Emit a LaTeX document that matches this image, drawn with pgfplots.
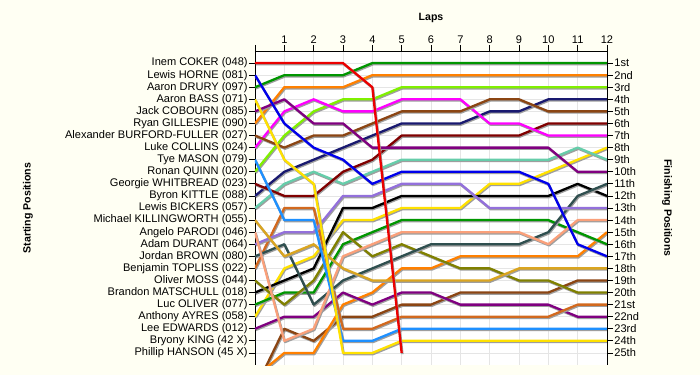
\documentclass[border=0pt]{standalone}
\usepackage{fontspec}
\setmainfont{Liberation Sans}
\usepackage{pgfplots}
\pgfplotsset{compat=1.18}
\definecolor{bg}{RGB}{255,255,243}
\definecolor{cRed}{RGB}{235,0,0}
\definecolor{cBlue}{RGB}{0,0,235}
\definecolor{cGreen}{RGB}{0,150,0}
\definecolor{cYellow}{RGB}{255,225,0}
\definecolor{cPurple}{RGB}{128,0,128}
\definecolor{cOrange}{RGB}{255,128,0}
\definecolor{cBrown}{RGB}{139,69,19}
\definecolor{cMagenta}{RGB}{255,0,255}
\definecolor{cDodger}{RGB}{30,144,255}
\definecolor{cLime}{RGB}{128,240,0}
\definecolor{cMaroon}{RGB}{128,0,0}
\definecolor{cNavy}{RGB}{25,25,112}
\definecolor{cAqua}{RGB}{102,205,170}
\definecolor{cGold}{RGB}{218,165,32}
\definecolor{cSalmon}{RGB}{250,160,122}
\definecolor{cMedPurple}{RGB}{147,112,219}
\definecolor{cSlate}{RGB}{47,79,79}
\definecolor{cChoc}{RGB}{210,105,30}
\definecolor{cOlive}{RGB}{128,128,0}
\newcommand{\rider}[2]{%
  \addplot[draw=black!38, line width=2.3bp, line join=round, shift={(0.8bp,-1.2bp)}, forget plot] coordinates {#2};
  \addplot[draw=#1, line width=2.3bp, line join=round, forget plot] coordinates {#2};
}
\newcommand{\lblfont}{\fontsize{11.1}{12}\selectfont}
\newcommand{\ttlfont}{\fontsize{10.6}{12}\selectfont\bfseries}
\begin{document}
\begin{tikzpicture}
\fill[bg] (-255bp,-10bp) rectangle (445bp,365bp);
\path[use as bounding box] (-255bp,-10bp) rectangle (445bp,365bp);
\begin{axis}[
  at={(0,0)}, anchor=south west,
  scale only axis, width=352bp, height=314bp,
  xmin=0, xmax=12, ymin=0, ymax=26, y dir=reverse,
  axis background/.style={fill=white},
  axis x line*=top, axis y line*=box,
  xtick={0,...,12}, xticklabels={,1,2,3,4,5,6,7,8,9,10,11,12},
  ytick={1,...,25},
  ytick pos=left,
  yticklabels={Inem COKER (048),Lewis HORNE (081),Aaron DRURY (097),Aaron BASS (071),Jack COBOURN (085),Ryan GILLESPIE (090),Alexander BURFORD-FULLER (027),Luke COLLINS (024),Tye MASON (079),Ronan QUINN (020),Georgie WHITBREAD (023),Byron KITTLE (088),Lewis BICKERS (057),Michael KILLINGWORTH (055),Angelo PARODI (046),Adam DURANT (064),Jordan BROWN (080),Benjamin TOPLISS (022),Oliver MOSS (044),Brandon MATSCHULL (018),Luc OLIVER (077),Anthony AYRES (058),Lee EDWARDS (012),Bryony KING (42 X),Phillip HANSON (45 X)},
  tick align=outside, major tick length=6bp,
  tick style={black, line width=0.8bp},
  axis line style={black, line width=0.8bp},
  grid=major, grid style={draw=black!10, line width=0.8bp},
  tick label style={font=\lblfont},
  yticklabel style={inner sep=1.2bp},
  xticklabel style={inner sep=1.5bp},
]
\rider{cBrown}{(0,28)(1,23)(2,24)(3,22)(4,22)(5,21)(6,21)(7,20)(8,20)(9,20)(10,20)(11,19)(12,19)}
\rider{cOrange}{(0,27)(1,25)(2,25)(3,21)(4,20)(5,18)(6,18)(7,17)(8,17)(9,17)(10,17)(11,17)(12,15)}
\rider{cPurple}{(0,23)(1,22)(2,22)(3,20)(4,21)(5,20)(6,20)(7,21)(8,21)(9,21)(10,21)(11,22)(12,22)}
\rider{cYellow}{(0,22)(1,18)(2,17)(3,14)(4,14)(5,13)(6,13)(7,13)(8,11)(9,11)(10,10)(11,9)(12,8)}
\rider{cGreen}{(0,21)(1,20)(2,20)(3,16)(4,15)(5,14)(6,14)(7,14)(8,14)(9,14)(10,14)(11,15)(12,16)}
\rider{black}{(0,20)(1,19)(2,18)(3,13)(4,13)(5,12)(6,12)(7,12)(8,12)(9,12)(10,12)(11,11)(12,12)}
\rider{cOlive}{(0,19)(1,21)(2,19)(3,15)(4,17)(5,16)(6,17)(7,18)(8,18)(9,19)(10,19)(11,20)(12,20)}
\rider{cChoc}{(0,18)(1,13)(2,13)(3,23)(4,23)(5,22)(6,22)(7,22)(8,22)(9,22)(10,22)(11,21)(12,21)}
\rider{cSlate}{(0,17)(1,16)(2,21)(3,19)(4,18)(5,17)(6,16)(7,16)(8,16)(9,16)(10,15)(11,12)(12,11)}
\rider{cMedPurple}{(0,16)(1,15)(2,15)(3,12)(4,12)(5,11)(6,11)(7,11)(8,13)(9,13)(10,13)(11,13)(12,13)}
\rider{cSalmon}{(0,15)(1,24)(2,23)(3,17)(4,16)(5,15)(6,15)(7,15)(8,15)(9,15)(10,16)(11,14)(12,14)}
\rider{cGold}{(0,14)(1,17)(2,16)(3,18)(4,19)(5,19)(6,19)(7,19)(8,19)(9,18)(10,18)(11,18)(12,18)}
\rider{cAqua}{(0,13)(1,11)(2,10)(3,11)(4,10)(5,9)(6,9)(7,9)(8,9)(9,9)(10,9)(11,8)(12,9)}
\rider{cNavy}{(0,12)(1,10)(2,9)(3,8)(4,7)(5,6)(6,6)(7,6)(8,5)(9,5)(10,4)(11,4)(12,4)}
\rider{cMaroon}{(0,11)(1,12)(2,12)(3,10)(4,9)(5,7)(6,7)(7,7)(8,7)(9,7)(10,6)(11,6)(12,6)}
\rider{cLime}{(0,10)(1,7)(2,5)(3,4)(4,4)(5,3)(6,3)(7,3)(8,3)(9,3)(10,3)(11,3)(12,3)}
\rider{cDodger}{(0,9)(1,14)(2,14)(3,24)(4,24)(5,23)(6,23)(7,23)(8,23)(9,23)(10,23)(11,23)(12,23)}
\rider{cMagenta}{(0,8)(1,5)(2,4)(3,5)(4,5)(5,4)(6,4)(7,4)(8,6)(9,6)(10,7)(11,7)(12,7)}
\rider{cBrown}{(0,7)(1,8)(2,7)(3,7)(4,6)(5,5)(6,5)(7,5)(8,4)(9,4)(10,5)(11,5)(12,5)}
\rider{cOrange}{(0,6)(1,3)(2,3)(3,3)(4,2)(5,2)(6,2)(7,2)(8,2)(9,2)(10,2)(11,2)(12,2)}
\rider{cPurple}{(0,5)(1,4)(2,6)(3,6)(4,8)(5,8)(6,8)(7,8)(8,8)(9,8)(10,8)(11,10)(12,10)}
\rider{cYellow}{(0,4)(1,9)(2,11)(3,25)(4,25)(5,24)(6,24)(7,24)(8,24)(9,24)(10,24)(11,24)(12,24)}
\rider{cGreen}{(0,3)(1,2)(2,2)(3,2)(4,1)(5,1)(6,1)(7,1)(8,1)(9,1)(10,1)(11,1)(12,1)}
\rider{cBlue}{(0,2)(1,6)(2,8)(3,9)(4,11)(5,10)(6,10)(7,10)(8,10)(9,10)(10,11)(11,16)(12,17)}
\rider{cRed}{(0,1)(1,1)(2,1)(3,1)(4,3)(5,25)}
\end{axis}
\begin{axis}[
  at={(0,0)}, anchor=south west,
  scale only axis, width=352bp, height=314bp,
  xmin=0, xmax=12, ymin=0, ymax=26, y dir=reverse,
  axis x line=none, axis y line*=right,
  ytick={1,...,25},
  yticklabels={1st,2nd,3rd,4th,5th,6th,7th,8th,9th,10th,11th,12th,13th,14th,15th,16th,17th,18th,19th,20th,21st,22nd,23rd,24th,25th},
  tick align=outside, major tick length=6bp,
  tick style={black, line width=0.8bp},
  axis line style={black, line width=0.8bp},
  tick label style={font=\lblfont},
  yticklabel style={inner sep=1.2bp},
]
\addplot[draw=none, forget plot] coordinates {(0,1)(12,25)};
\end{axis}
\node[rotate=90, font=\ttlfont] at (-227bp,157bp) {Starting Positions};
\node[rotate=-90, font=\ttlfont] at (412bp,157bp) {Finishing Positions};
\node[font=\ttlfont] at (176bp,347bp) {Laps};
\end{tikzpicture}
\end{document}
